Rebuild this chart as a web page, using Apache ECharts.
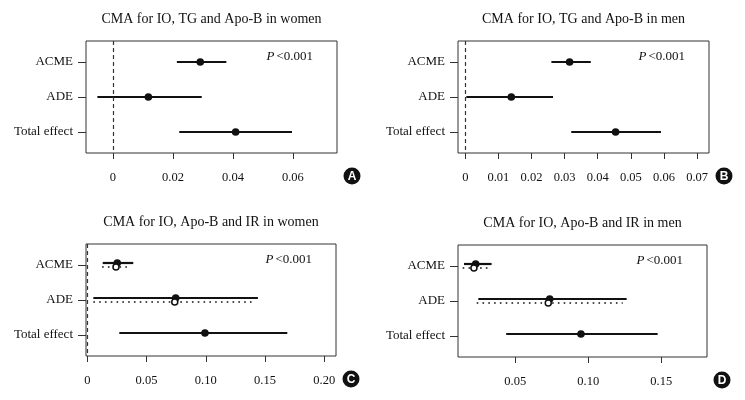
<!DOCTYPE html>
<html><head><meta charset="utf-8">
<script src="https://cdn.jsdelivr.net/npm/echarts@6/dist/echarts.min.js"></script>
<style>html,body{margin:0;padding:0;background:#fff}#c{width:745px;height:400px}</style>
</head><body><div id="c"></div><script>
// ---------- data ----------
const rowLabels = ['ACME', 'ADE', 'Total effect'];
const pText = '<0.001';

const aTitle = 'CMA for IO, TG and Apo-B in women';
const aEst  = [0.0291, 0.0118, 0.0409];
const aLow  = [0.0213, -0.0052, 0.0221];
const aHigh = [0.0378, 0.0296, 0.0597];
const aTicks = [0, 0.02, 0.04, 0.06];
const aTickLabels = ['0', '0.02', '0.04', '0.06'];

const bTitle = 'CMA for IO, TG and Apo-B in men';
const bEst  = [0.0315, 0.0139, 0.0454];
const bLow  = [0.0260, 0.0003, 0.0320];
const bHigh = [0.0379, 0.0265, 0.0591];
const bTicks = [0, 0.01, 0.02, 0.03, 0.04, 0.05, 0.06, 0.07];
const bTickLabels = ['0', '0.01', '0.02', '0.03', '0.04', '0.05', '0.06', '0.07'];

const cTitle = 'CMA for IO, Apo-B and IR in women';
const cEst  = [0.0253, 0.0746, 0.0993];
const cLow  = [0.0130, 0.0051, 0.0270];
const cHigh = [0.0388, 0.1440, 0.1688];
const cEst2  = [0.0242, 0.0738];
const cLow2  = [0.0125, 0.0051];
const cHigh2 = [0.0336, 0.1400];
const cTicks = [0, 0.05, 0.10, 0.15, 0.20];
const cTickLabels = ['0', '0.05', '0.10', '0.15', '0.20'];

const dTitle = 'CMA for IO, Apo-B and IR in men';
const dEst  = [0.0229, 0.0736, 0.0950];
const dLow  = [0.0149, 0.0247, 0.0438];
const dHigh = [0.0338, 0.1263, 0.1475];
const dEst2  = [0.0217, 0.0726];
const dLow2  = [0.0140, 0.0236];
const dHigh2 = [0.0315, 0.1236];
const dTicks = [0.05, 0.10, 0.15];
const dTickLabels = ['0.05', '0.10', '0.15'];

// ---------- layout / style ----------
const SERIF = '"Liberation Serif", "DejaVu Serif", serif';
const INK = '#111';
const panels = [
  {title: aTitle, letter: 'A', grid: {left: 86, top: 41, width: 251, height: 112}, xr: [-0.009, 0.0747],
   est: aEst, low: aLow, high: aHigh, ticks: aTicks, tl: aTickLabels, zero: true},
  {title: bTitle, letter: 'B', grid: {left: 458, top: 41, width: 251, height: 112}, xr: [-0.0022, 0.0736],
   est: bEst, low: bLow, high: bHigh, ticks: bTicks, tl: bTickLabels, zero: true},
  {title: cTitle, letter: 'C', grid: {left: 86, top: 244, width: 250, height: 112}, xr: [-0.0011, 0.2099],
   est: cEst, low: cLow, high: cHigh, est2: cEst2, low2: cLow2, high2: cHigh2, ticks: cTicks, tl: cTickLabels, zero: true},
  {title: dTitle, letter: 'D', grid: {left: 458, top: 245, width: 249, height: 112}, xr: [0.0108, 0.1813],
   est: dEst, low: dLow, high: dHigh, est2: dEst2, low2: dLow2, high2: dHigh2, ticks: dTicks, tl: dTickLabels, zero: false}
];

function makeRender(dy, dotted) {
  return function (params, api) {
    const y = api.value(0);
    const p1 = api.coord([api.value(1), y]);
    const p2 = api.coord([api.value(3), y]);
    const pc = api.coord([api.value(2), y]);
    const yy = Math.round(p1[1] + dy);
    return {type: 'group', children: [
      {type: 'line', shape: {x1: p1[0], y1: yy, x2: p2[0], y2: yy},
       style: {stroke: INK, lineWidth: dotted ? 1.6 : 2.2, lineDash: dotted ? [1.6, 4.2] : null}},
      {type: 'circle', shape: {cx: pc[0], cy: yy, r: dotted ? 3 : 3.8},
       style: {fill: dotted ? '#fff' : INK, stroke: INK, lineWidth: dotted ? 1.5 : 0}}
    ]};
  };
}

const option = {animation: false, backgroundColor: '#fff', grid: [], xAxis: [], yAxis: [], series: [], graphic: []};

panels.forEach((p, k) => {
  option.grid.push(Object.assign({show: true, borderColor: '#333', borderWidth: 1, backgroundColor: 'transparent'}, p.grid));
  option.xAxis.push({
    type: 'value', gridIndex: k, min: p.xr[0], max: p.xr[1], position: 'bottom',
    axisLine: {show: false, onZero: false}, splitLine: {show: false},
    axisTick: {show: true, length: 6, customValues: p.ticks, lineStyle: {color: '#333'}},
    axisLabel: {customValues: p.ticks, margin: 18, color: INK, fontFamily: SERIF, fontSize: 12.5,
      formatter: v => { const i = p.ticks.findIndex(t => Math.abs(t - v) < 1e-9); return i >= 0 ? p.tl[i] : ''; }}
  });
  option.yAxis.push({
    type: 'value', gridIndex: k, min: 0.4, max: 3.6, inverse: true, position: 'left',
    axisLine: {show: false, onZero: false}, splitLine: {show: false},
    axisTick: {show: true, length: 8, customValues: [1, 2, 3], lineStyle: {color: '#333'}},
    axisLabel: {customValues: [1, 2, 3], margin: 13, color: INK, fontFamily: SERIF, fontSize: 13,
      formatter: v => rowLabels[Math.round(v) - 1] || ''}
  });
  const dyMain = p.est2 ? -2 : 0;
  const main = {
    type: 'custom', xAxisIndex: k, yAxisIndex: k, clip: false,
    encode: {x: [1, 2, 3], y: 0},
    renderItem: makeRender(dyMain, false),
    data: p.est.map((v, i) => [i + 1, p.low[i], v, p.high[i]])
  };
  if (p.zero) {
    main.markLine = {silent: true, symbol: 'none', label: {show: false},
      lineStyle: {type: [4, 3], color: '#333', width: 1.2}, data: [{xAxis: 0}]};
  }
  option.series.push(main);
  if (p.est2) {
    option.series.push({
      type: 'custom', xAxisIndex: k, yAxisIndex: k, clip: false,
      encode: {x: [1, 2, 3], y: 0},
      renderItem: makeRender(2, true),
      data: p.est2.map((v, i) => [i + 1, p.low2[i], v, p.high2[i]])
    });
  }
  const g = p.grid;
  const cx = g.left + g.width / 2;
  option.graphic.push({type: 'text', x: cx, y: g.top - 22,
    style: {text: p.title, fill: INK, font: '14px ' + SERIF, align: 'center', verticalAlign: 'middle'}});
  option.graphic.push({type: 'text', x: g.left + g.width - 24, y: g.top + 16,
    style: {text: '{i|P}{n|' + pText + '}', align: 'right', verticalAlign: 'middle',
      rich: {i: {fontStyle: 'italic', fontFamily: SERIF, fontSize: 13, fill: INK, padding: [0, 2, 0, 0]},
             n: {fontFamily: SERIF, fontSize: 13, fill: INK}}}});
  option.graphic.push({type: 'group', x: g.left + g.width + 15, y: g.top + g.height + 23, children: [
    {type: 'circle', shape: {cx: 0, cy: 0, r: 8.5}, style: {fill: '#111'}},
    {type: 'text', x: 0, y: 0.5, style: {text: p.letter, fill: '#fff', font: 'bold 12px "Liberation Sans", Arial, sans-serif', align: 'center', verticalAlign: 'middle'}}
  ]});
});

const chart = echarts.init(document.getElementById('c'), null, {renderer: 'canvas'});
chart.setOption(option);
</script></body></html>
